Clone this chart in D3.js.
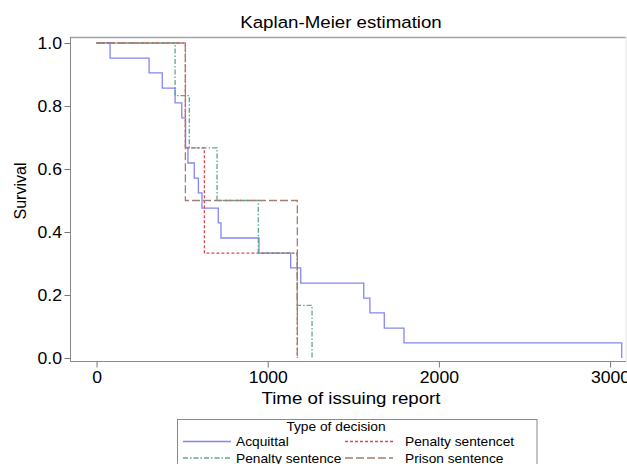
<!DOCTYPE html>
<html>
<head>
<meta charset="utf-8">
<script src="https://cdn.jsdelivr.net/npm/d3@7"></script>
<style>
  body { margin: 0; background: #fff; }
  text { font-family: "Liberation Sans", Arial, Helvetica, sans-serif; fill: #000; }
</style>
</head>
<body>
<script>
// survival curves (time of each step, survival after it)
const groups = ['Acquittal', 'Penalty sentencet', 'Penalty sentence', 'Prison sentence'];

const acquittalTime = [79, 307, 384, 459, 498, 520, 534, 571, 595, 616, 711, 727, 949, 1134, 1193, 1561, 1597, 1681, 1796, 3068];
const acquittalSurv = [0.952, 0.905, 0.857, 0.810, 0.762, 0.667, 0.619, 0.571, 0.524, 0.476, 0.429, 0.381, 0.333, 0.286, 0.238, 0.190, 0.143, 0.095, 0.048, 0];

const sentencetTime = [519, 630, 1173];
const sentencetSurv = [0.667, 0.333, 0];

const penaltyTime = [459, 542, 704, 945, 1172, 1259];
const penaltySurv = [0.833, 0.667, 0.5, 0.333, 0.167, 0];

const prisonTime = [519, 1173];
const prisonSurv = [0.5, 0];

const xTicks = [0, 1000, 2000, 3000];
const yTicks = [0, 0.2, 0.4, 0.6, 0.8, 1.0];

const colors = ['#8585f2', '#e0474c', '#5fa599', '#a0806e'];
const dashes = [null, '3,2', '5,2,1.5,2', '8,3'];

const W = 627, H = 464;
const sx = 1.1; // text in the picture is a bit wide

const svg = d3.select('body').append('svg')
    .attr('width', W)
    .attr('height', H);

let x = d3.scaleLinear()
    .domain([-155, 3093])
    .range([70, 626]);

let y = d3.scaleLinear()
    .domain([0, 1])
    .range([358, 43]);

// frame
svg.append('line').attr('x1', 70).attr('x2', 626).attr('y1', 37.5).attr('y2', 37.5)
    .attr('stroke', '#a3a3a3').attr('stroke-width', 1.5);
svg.append('line').attr('x1', 626).attr('x2', 626).attr('y1', 37).attr('y2', 361)
    .attr('stroke', '#e4e4e4').attr('stroke-width', 1);
svg.append('line').attr('x1', 70.5).attr('x2', 70.5).attr('y1', 37).attr('y2', 361.5)
    .attr('stroke', '#8a8a8a').attr('stroke-width', 1);
svg.append('line').attr('x1', 70).attr('x2', 626).attr('y1', 361.5).attr('y2', 361.5)
    .attr('stroke', '#8a8a8a').attr('stroke-width', 1);

// axes
let xAxis = svg.append('g')
    .attr('transform', 'translate(0,361.5)')
    .call(d3.axisBottom(x).tickValues(xTicks).tickSize(6).tickFormat(d3.format('d')));
xAxis.select('.domain').remove();
xAxis.selectAll('line').attr('stroke', '#777');
xAxis.selectAll('text')
    .attr('y', 22).attr('dy', 0)
    .style('font-size', '16px')
    .attr('fill', '#000')
    .attr('transform', `scale(${sx},1)`);

let yAxis = svg.append('g')
    .attr('transform', 'translate(70.5,0)')
    .call(d3.axisLeft(y).tickValues(yTicks).tickSize(6).tickFormat(d3.format('.1f')));
yAxis.select('.domain').remove();
yAxis.selectAll('line').attr('stroke', '#777');
yAxis.selectAll('text')
    .attr('x', -8.5 / sx)
    .attr('dy', '0.36em')
    .style('font-size', '16px')
    .attr('fill', '#000')
    .attr('transform', `scale(${sx},1)`);

// curves
let series = [
    [acquittalTime, acquittalSurv],
    [sentencetTime, sentencetSurv],
    [penaltyTime, penaltySurv],
    [prisonTime, prisonSurv]
];

let line = d3.line()
    .x(d => x(d[0]))
    .y(d => y(d[1]))
    .curve(d3.curveStepAfter);

series.forEach((s, i) => {
    let pts = [[0, 1]].concat(s[0].map((t, j) => [t, s[1][j]]));
    svg.append('path')
        .datum(pts)
        .attr('d', line)
        .attr('fill', 'none')
        .attr('stroke', colors[i])
        .attr('stroke-width', 1.3)
        .attr('stroke-dasharray', dashes[i]);
});

// text helper, stretched horizontally like the picture
let label = (str, tx, ty, size, anchor) => {
    return svg.append('text')
        .attr('transform', `translate(${tx},${ty}) scale(${sx},1)`)
        .attr('text-anchor', anchor || 'middle')
        .style('font-size', size + 'px')
        .text(str);
};

label('Kaplan-Meier estimation', 341, 28, 17);
label('Time of issuing report', 351, 404, 17);

svg.append('text')
    .attr('transform', 'translate(26,191) rotate(-90)')
    .attr('text-anchor', 'middle')
    .style('font-size', '16px')
    .text('Survival');

// legend
let legend = svg.append('g');
legend.append('rect')
    .attr('x', 177.5).attr('y', 419.5)
    .attr('width', 359.5).attr('height', 60)
    .attr('fill', '#fff').attr('stroke', '#8a8a8a');

label('Type of decision', 336, 430.5, 12.5);

let legPos = [[183, 441.5], [345, 441.5], [183, 458], [345, 458]];
groups.forEach((g, i) => {
    let p = legPos[i];
    svg.append('line')
        .attr('x1', p[0]).attr('x2', p[0] + 48)
        .attr('y1', p[1]).attr('y2', p[1])
        .attr('stroke', colors[i])
        .attr('stroke-width', 1.3)
        .attr('stroke-dasharray', dashes[i]);
    label(g, p[0] + (i % 2 ? 60 : 53), p[1] + 4.5, 12.5, 'start');
});
</script>
</body>
</html>
